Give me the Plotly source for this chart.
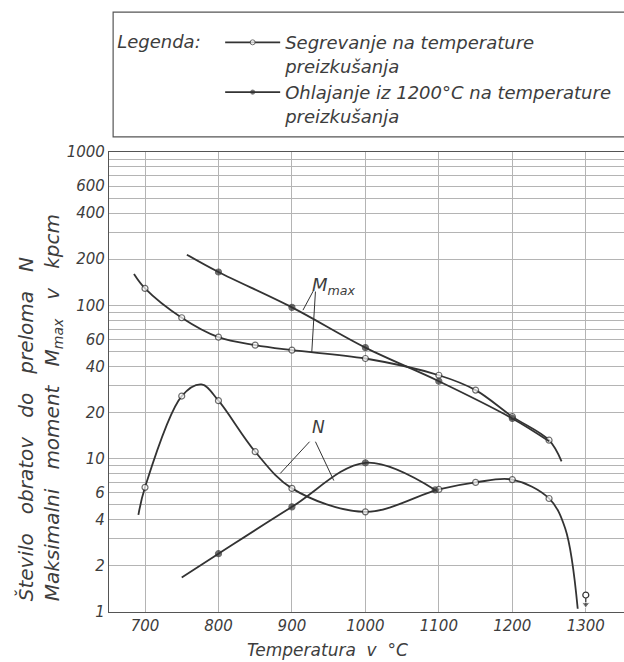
import plotly.graph_objects as go

# ---- readings: temperature in °C ----
# maximum torque M_max (kpcm), heated to the test temperature
m_heat_t = [685, 700, 750, 800, 850, 900, 1000, 1100, 1150, 1200, 1250, 1267]
m_heat = [160, 129, 83, 62, 55, 51, 45, 35, 28, 18.8, 13.2, 9.6]
m_heat_mark = [0, 1, 1, 1, 1, 1, 1, 1, 1, 1, 1, 0]

# maximum torque M_max (kpcm), cooled from 1200 °C to the test temperature
m_cool_t = [757, 800, 900, 1000, 1100, 1200, 1250]
m_cool = [214, 165, 97, 53, 32, 18.3, 13.0]
m_cool_mark = [0, 1, 1, 1, 1, 1, 0]

# number of turns to fracture N, heated
n_heat_t = [691, 700, 750, 777, 800, 850, 900, 1000, 1100, 1150, 1200, 1250, 1272, 1289]
n_heat = [4.3, 6.5, 25.6, 30.5, 23.9, 11.1, 6.4, 4.5, 6.3, 7.0, 7.3, 5.5, 3.5, 1.05]
n_heat_mark = [0, 1, 1, 0, 1, 1, 1, 1, 1, 1, 1, 1, 0, 0]

# number of turns to fracture N, cooled
n_cool_t = [750, 800, 900, 1000, 1095]
n_cool = [1.68, 2.4, 4.85, 9.4, 6.25]
n_cool_mark = [0, 1, 1, 1, 1]

# specimen at 1300 °C (below the scale)
n_low_t = [1300]
n_low = [1.29]

x_ticks = [700, 800, 900, 1000, 1100, 1200, 1300]
y_ticks = [1, 2, 4, 6, 10, 20, 40, 60, 100, 200, 400, 600, 1000]
y_minor = [3, 5, 7, 8, 9, 30, 50, 70, 80, 90, 300, 500, 700, 800, 900]

label_heat = "Segrevanje na temperature<br>preizkušanja"
label_cool = "Ohlajanje iz 1200°C na temperature<br>preizkušanja"

INK = "#333333"
TXT = "#3d3d3d"
GRID = "#b4b4b4"
FONT = "DejaVu Sans"
SP = "\u00a0\u00a0"
SP3 = "\u00a0\u00a0\u00a0"

fig = go.Figure()


def curve(xs, ys, marks, filled, name, show):
    sizes = [6 if m else 0 for m in marks]
    widths = [1.2 if m else 0 for m in marks]
    fig.add_trace(go.Scatter(
        x=xs, y=ys, mode="lines+markers", name=name,
        legendgroup=name, showlegend=show,
        line=dict(color=INK, width=1.8, shape="spline", smoothing=1),
        marker=dict(symbol="circle", size=sizes,
                    color=INK if filled else "white",
                    line=dict(color=INK, width=widths)),
    ))


curve(m_heat_t, m_heat, m_heat_mark, False, label_heat, True)
curve(m_cool_t, m_cool, m_cool_mark, True, label_cool, True)
curve(n_heat_t, n_heat, n_heat_mark, False, label_heat, False)
curve(n_cool_t, n_cool, n_cool_mark, True, label_cool, False)

# isolated point with a downward arrow
fig.add_trace(go.Scatter(
    x=n_low_t, y=n_low, mode="markers", showlegend=False,
    marker=dict(symbol="circle", size=6, color="white", line=dict(color=INK, width=1.2)),
))
fig.add_trace(go.Scatter(
    x=[n_low_t[0], n_low_t[0]], y=[1.23, 1.12], mode="lines+markers", showlegend=False,
    line=dict(color=INK, width=1.2),
    marker=dict(symbol=["circle", "triangle-down"], size=[0, 7], color=INK),
))

# leader lines from the curve labels
leaders = [
    ([929, 915], [124, 93]),
    ([932, 927], [123, 49.5]),
    ([924, 884], [12.9, 8.0]),
    ([932, 957], [12.9, 7.2]),
]
for lx, ly in leaders:
    fig.add_trace(go.Scatter(x=lx, y=ly, mode="lines", showlegend=False,
                             line=dict(color=INK, width=1.0)))

fig.add_annotation(x=925, y=2.125, xref="x", yref="y", xanchor="left", yanchor="middle",
                   text="M<sub>max</sub>", showarrow=False,
                   font=dict(family=FONT, size=18, color=TXT, style="italic"))
fig.add_annotation(x=936, y=1.207, xref="x", yref="y", xanchor="center", yanchor="middle",
                   text="N", showarrow=False,
                   font=dict(family=FONT, size=17, color=TXT, style="italic"))

# axis titles
fig.add_annotation(x=-0.134, y=0.445, xref="paper", yref="paper",
                   xanchor="center", yanchor="middle",
                   text=f"Število{SP3}obratov{SP3}do{SP3}preloma{SP3}N<br>"
                        f"Maksimalni{SP3}moment{SP3}M<sub>max</sub>{SP3}v{SP3}kpcm",
                   textangle=-90, align="left", showarrow=False,
                   font=dict(family=FONT, size=20, color=TXT, style="italic"))
fig.add_annotation(x=0.425, y=-0.083, xref="paper", yref="paper",
                   xanchor="center", yanchor="middle",
                   text=f"Temperatura{SP}v{SP}°C", showarrow=False,
                   font=dict(family=FONT, size=17, color=TXT, style="italic"))

# legend frame
fig.add_shape(type="rect", xref="paper", yref="paper",
              x0=0.008, x1=1.05, y0=1.033, y1=1.304,
              line=dict(color="#555555", width=1.2), fillcolor="rgba(0,0,0,0)")

fig.update_layout(
    width=624, height=662, autosize=False,
    margin=dict(l=109, r=0, t=152, b=50),
    paper_bgcolor="white", plot_bgcolor="white",
    showlegend=True,
    legend=dict(
        x=0.012, y=1.278, xanchor="left", yanchor="top",
        title=dict(text="Legenda:" + SP, side="left",
                   font=dict(family=FONT, size=18, color=TXT, style="italic")),
        font=dict(family=FONT, size=18, color=TXT, style="italic"),
        valign="top", bgcolor="rgba(0,0,0,0)", tracegroupgap=0,
        itemwidth=55,
    ),
    xaxis=dict(
        range=[651, 1352], tickvals=x_ticks, ticktext=[str(v) for v in x_ticks],
        showgrid=True, gridcolor=GRID, gridwidth=1, zeroline=False,
        showline=True, linecolor="#555555", linewidth=1.2, mirror=True, ticks="",
        tickfont=dict(family=FONT, size=15, color=TXT, style="italic"),
    ),
    yaxis=dict(
        type="log", range=[0, 3], tickvals=y_ticks, ticktext=[str(v) for v in y_ticks],
        showgrid=True, gridcolor=GRID, gridwidth=1, zeroline=False,
        showline=True, linecolor="#555555", linewidth=1.2, ticks="",
        minor=dict(tickvals=y_minor, showgrid=True, gridcolor=GRID, gridwidth=1),
        tickfont=dict(family=FONT, size=15, color=TXT, style="italic"),
    ),
)

fig.write_html("out.html")
